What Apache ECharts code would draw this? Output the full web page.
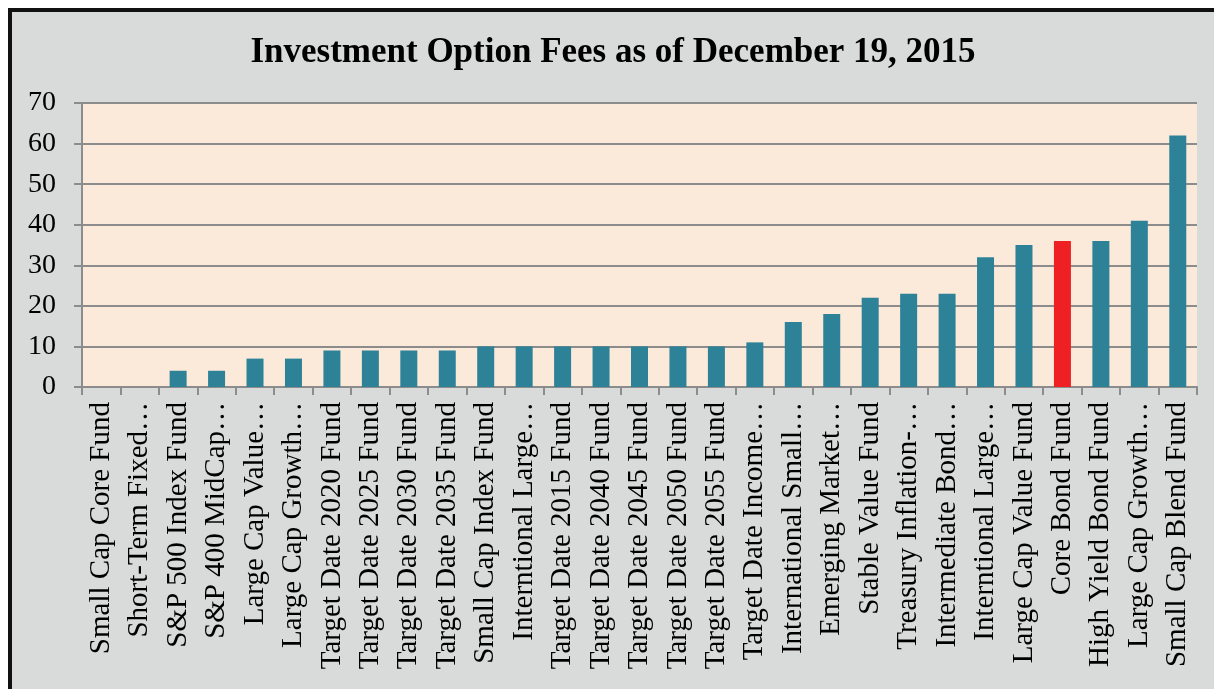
<!DOCTYPE html>
<html>
<head>
<meta charset="utf-8">
<script src="https://cdn.jsdelivr.net/npm/echarts@6/dist/echarts.min.js"></script>
<style>
  html, body { margin: 0; padding: 0; background: #fff; }
  #chart {
    position: absolute; left: 8px; top: 8px;
    width: 1202px; height: 677px;
    border-left: 4px solid #111; border-top: 4px solid #111;
    background: #d9dada;
  }
</style>
</head>
<body>
<div id="chart"></div>
<script>
// fund names, in the order shown
var categories = [
  'Small Cap Core Fund', 'Short-Term Fixed…', 'S&P 500 Index Fund', 'S&P 400 MidCap…',
  'Large Cap Value…', 'Large Cap Growth…', 'Target Date 2020 Fund', 'Target Date 2025 Fund',
  'Target Date 2030 Fund', 'Target Date 2035 Fund', 'Small Cap Index Fund', 'Interntional Large…',
  'Target Date 2015 Fund', 'Target Date 2040 Fund', 'Target Date 2045 Fund', 'Target Date 2050 Fund',
  'Target Date 2055 Fund', 'Target Date Income…', 'International Small…', 'Emerging Market…',
  'Stable Value Fund', 'Treasury Inflation-…', 'Intermediate Bond…', 'Interntional Large…',
  'Large Cap Value Fund', 'Core Bond Fund', 'High Yield Bond Fund', 'Large Cap Growth…',
  'Small Cap Blend Fund'
];
var fees = [0, 0, 4, 4, 7, 7, 9, 9, 9, 9, 10, 10, 10, 10, 10, 10, 10, 11, 16, 18, 22, 23, 23, 32, 35, 36, 36, 41, 62];
var highlighted = 'Core Bond Fund';

var chart = echarts.init(document.getElementById('chart'));
chart.setOption({
  title: {
    text: 'Investment Option Fees as of December 19, 2015',
    left: 'center',
    top: 18,
    textStyle: { fontFamily: 'Liberation Serif', fontSize: 35, fontWeight: 'bold', color: '#000' }
  },
  grid: {
    left: 70, right: 17, top: 91, bottom: 302,
    show: true, backgroundColor: '#fbe9da', borderWidth: 0
  },
  xAxis: {
    type: 'category',
    data: categories,
    axisLine: { lineStyle: { color: '#8c8c8c', width: 2 } },
    axisTick: { show: true, length: 8, lineStyle: { color: '#8c8c8c', width: 2 } },
    axisLabel: {
      interval: 0, rotate: 90, margin: 15,
      fontFamily: 'Liberation Serif', fontSize: 29, color: '#000'
    }
  },
  yAxis: {
    type: 'value',
    min: 0, max: 70, interval: 10,
    axisLine: { show: true, lineStyle: { color: '#8c8c8c', width: 2 } },
    axisTick: { show: true, length: 8, lineStyle: { color: '#8c8c8c', width: 2 } },
    splitLine: { lineStyle: { color: '#8c8c8c', width: 2 } },
    axisLabel: { margin: 26, fontFamily: 'Liberation Serif', fontSize: 28, color: '#000' }
  },
  series: [{
    type: 'bar',
    data: fees,
    barWidth: 17,
    itemStyle: {
      color: function (p) { return p.name === highlighted ? '#ee2024' : '#2e8298'; }
    },
    animation: false
  }]
});
</script>
</body>
</html>
